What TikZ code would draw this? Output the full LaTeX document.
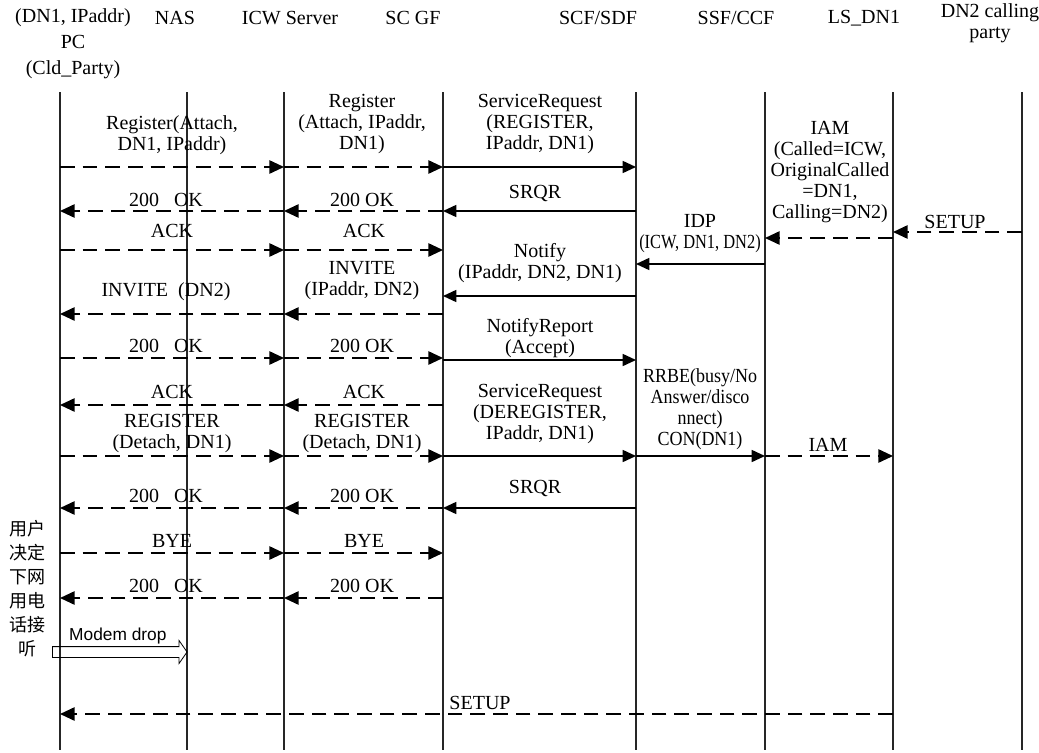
\documentclass[tikz,border=0pt]{standalone}
\usepackage{fontspec}
\setmainfont{Liberation Serif}
\newfontfamily\narrowfont[FakeStretch=0.82]{Liberation Serif}
\newfontfamily\slimfont[FakeStretch=0.9]{Liberation Serif}
\newfontfamily\cnfont{Noto Sans CJK SC}
\newfontfamily\mdfont{Liberation Sans}
\usepackage{tikz}
\usetikzlibrary{arrows.meta,positioning,shapes.arrows}

\begin{document}
\begin{tikzpicture}[x=0.75pt,y=-0.75pt,
  life/.style={line width=0.8pt,draw=black!85},
  dmsg/.style={-{Triangle[length=11pt,width=10pt]},line width=1.3pt,dash pattern=on 11pt off 6pt},
  smsg/.style={-{Triangle[length=10pt,width=9pt]},line width=1.2pt},
  lbl/.style={font=\fontsize{15pt}{15.75pt}\selectfont,align=center,inner sep=0pt},
  hd/.style={font=\fontsize{15pt}{19.5pt}\selectfont,align=center,inner sep=0pt},
  mdarrow/.style={single arrow,draw,line width=0.6pt,inner sep=3.75pt,minimum height=101pt,
                  single arrow head extend=4.5pt,single arrow tip angle=110}]
\useasboundingbox (0,0) rectangle (1039,753);

\node[hd] (hpc) at (73,44) {(DN1, IPaddr)\\PC\\(Cld\_Party)};
\node[hd] (hnas) at (175,18) {NAS};
\node[hd] (hicw) at (290,18) {ICW Server};
\node[hd] (hgf) at (413,18) {SC GF};
\node[hd] (hscf) at (598,18) {SCF/SDF};
\node[hd] (hssf) at (736,18) {SSF/CCF};
\node[hd] (hls) at (864,18) {LS\_DN1};
\node[hd,font=\fontsize{15pt}{16pt}\selectfont] (hdn) at (990,23) {DN2 calling\\party};

\foreach \n/\x in {pc/60,nas/187,icw/284,scgf/443,scf/636,ssf/765,ls/893,dn/1022}{
  \coordinate (\n) at (\x,92);
  \coordinate (\n-e) at (\x,750);
  \draw[life] (\n) -- (\n-e);
}

\foreach \r/\y in {r1/167,r2/211,r3/250,r4/232,r5/238,r6/264,r7/296,r8/314,r9/358,r10/360,
                   r11/405,r12/456,r13/508,r14/553,r15/598,r16/714,r17/652}
  \coordinate (\r) at (0,\y);

\foreach \a/\b/\r/\s in {pc/icw/r1/dmsg,icw/scgf/r1/dmsg,scgf/scf/r1/smsg,
    icw/pc/r2/dmsg,scgf/icw/r2/dmsg,scf/scgf/r2/smsg,pc/icw/r3/dmsg,icw/scgf/r3/dmsg,
    dn/ls/r4/dmsg,ls/ssf/r5/dmsg,ssf/scf/r6/smsg,scf/scgf/r7/smsg,scgf/icw/r8/dmsg,icw/pc/r8/dmsg,
    pc/icw/r9/dmsg,icw/scgf/r9/dmsg,scgf/scf/r10/smsg,scgf/icw/r11/dmsg,icw/pc/r11/dmsg,
    pc/icw/r12/dmsg,icw/scgf/r12/dmsg,scgf/scf/r12/smsg,scf/ssf/r12/smsg,ssf/ls/r12/dmsg,
    icw/pc/r13/dmsg,scgf/icw/r13/dmsg,scf/scgf/r13/smsg,pc/icw/r14/dmsg,icw/scgf/r14/dmsg,
    scgf/icw/r15/dmsg,icw/pc/r15/dmsg,ls/pc/r16/dmsg}
  \draw[\s] (\a |- \r) -- (\b |- \r);

\foreach \x/\y/\t [count=\i] in {172/135/{Register(Attach,\\DN1, IPaddr)},
    362/124/{Register\\(Attach, IPaddr,\\DN1)},540/124/{ServiceRequest\\(REGISTER,\\IPaddr, DN1)},
    166/200/{200\ \ \ OK},362/200/{200 OK},535/193/{SRQR},172/231/{ACK},364/231/{ACK},
    830/172/{IAM\\(Called=ICW,\\OriginalCalled\\=DN1,\\Calling=DN2)},955/222/{SETUP},
    700/234/{IDP\\{\narrowfont(ICW, DN1, DN2)}},540/263/{Notify\\(IPaddr, DN2, DN1)},
    362/281/{INVITE\\(IPaddr, DN2)},166/292/{INVITE\ \ (DN2)},540/338/{NotifyReport\\(Accept)},
    166/346/{200\ \ \ OK},362/346/{200 OK},172/392/{ACK},364/392/{ACK},
    172/434/{REGISTER\\(Detach, DN1)},362/434/{REGISTER\\(Detach, DN1)},
    540/414/{ServiceRequest\\(DEREGISTER,\\IPaddr, DN1)},
    700/409/{\slimfont RRBE(busy/No\\\slimfont Answer/disco\\\slimfont nnect)\\\slimfont CON(DN1)},
    828/445/{IAM},
    166/496/{200\ \ \ OK},362/496/{200 OK},535/488/{SRQR},172/541/{BYE},364/541/{BYE},
    166/586/{200\ \ \ OK},362/586/{200 OK},480/703/{SETUP}}
  \node[lbl] (m\i) at (\x,\y) {\t};

\node[font=\cnfont\fontsize{13.5pt}{18pt}\selectfont,align=center,inner sep=0pt] (cn) at (27,589)
  {用户\\决定\\下网\\用电\\话接\\听};

\node[mdarrow,anchor=west] (mdrop) at (52,652) {};
\node[font=\mdfont\fontsize{13pt}{13pt}\selectfont,inner sep=0pt,above=1.5pt of mdrop] (mdl) {Modem drop};
\end{tikzpicture}
\end{document}
